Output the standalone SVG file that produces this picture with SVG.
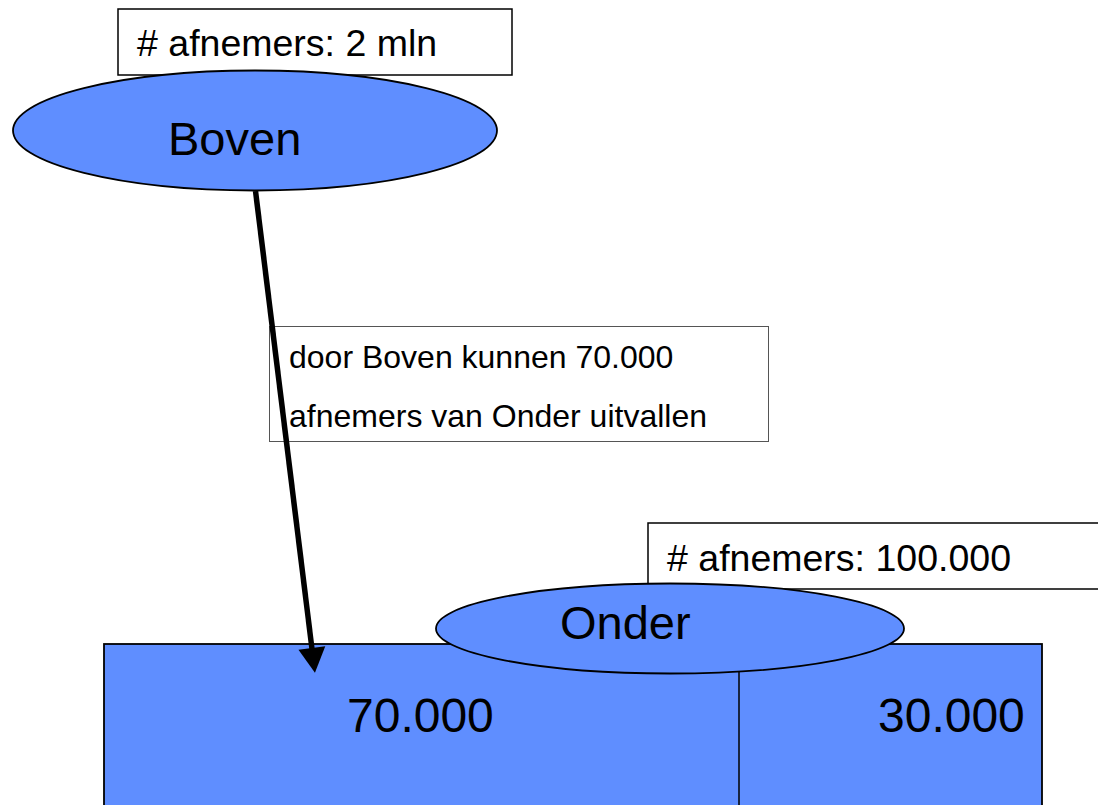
<svg xmlns="http://www.w3.org/2000/svg" width="1098" height="805" viewBox="0 0 1098 805">
  <defs>
    <style>
      .lbl { font-family: "Liberation Sans", Arial, sans-serif; fill: #000; }
      .box { fill: #fff; stroke: #000; stroke-width: 1.5; }
      .blue { fill: #5f8eff; stroke: #000; stroke-width: 1.8; }
    </style>
    <marker id="arrow" markerUnits="userSpaceOnUse" markerWidth="30" markerHeight="30" refX="1" refY="13.5" orient="auto" overflow="visible">
      <path d="M0,0 L25,13.5 L0,27 Z" fill="#000"/>
    </marker>
  </defs>
  <rect width="1098" height="805" fill="#fff"/>

  <g id="boven-count">
    <rect class="box" x="118" y="9" width="394" height="66"/>
    <text class="lbl" x="137" y="56" font-size="37.5"># afnemers: 2 mln</text>
  </g>

  <g id="boven">
    <ellipse class="blue" cx="255" cy="130.5" rx="242" ry="60"/>
    <text class="lbl" x="168" y="155" font-size="47">Boven</text>
  </g>

  <g id="onder-split">
    <rect class="blue" x="104" y="644" width="938" height="170" stroke-width="2"/>
    <line x1="739" y1="670" x2="739" y2="810" stroke="#000" stroke-width="1.5"/>
    <text class="lbl" x="347" y="732" font-size="48">70.000</text>
    <text class="lbl" x="878" y="732" font-size="48">30.000</text>
  </g>

  <g id="onder-count">
    <rect class="box" x="648" y="523" width="460" height="66"/>
    <text class="lbl" x="667" y="571" font-size="37.5"># afnemers: 100.000</text>
  </g>

  <g id="onder">
    <ellipse class="blue" cx="670" cy="628.5" rx="234" ry="45"/>
    <text class="lbl" x="560" y="639" font-size="47">Onder</text>
  </g>

  <g id="note">
    <rect x="269.5" y="326.5" width="499" height="115" fill="#fff" stroke="#555" stroke-width="1"/>
    <text class="lbl" x="289" y="368" font-size="32">door Boven kunnen 70.000</text>
    <text class="lbl" x="289" y="427" font-size="32">afnemers van Onder uitvallen</text>
  </g>

  <g id="connectors">
    <line x1="255.5" y1="191" x2="312" y2="649" stroke="#000" stroke-width="5.5" marker-end="url(#arrow)"/>
  </g>
</svg>
